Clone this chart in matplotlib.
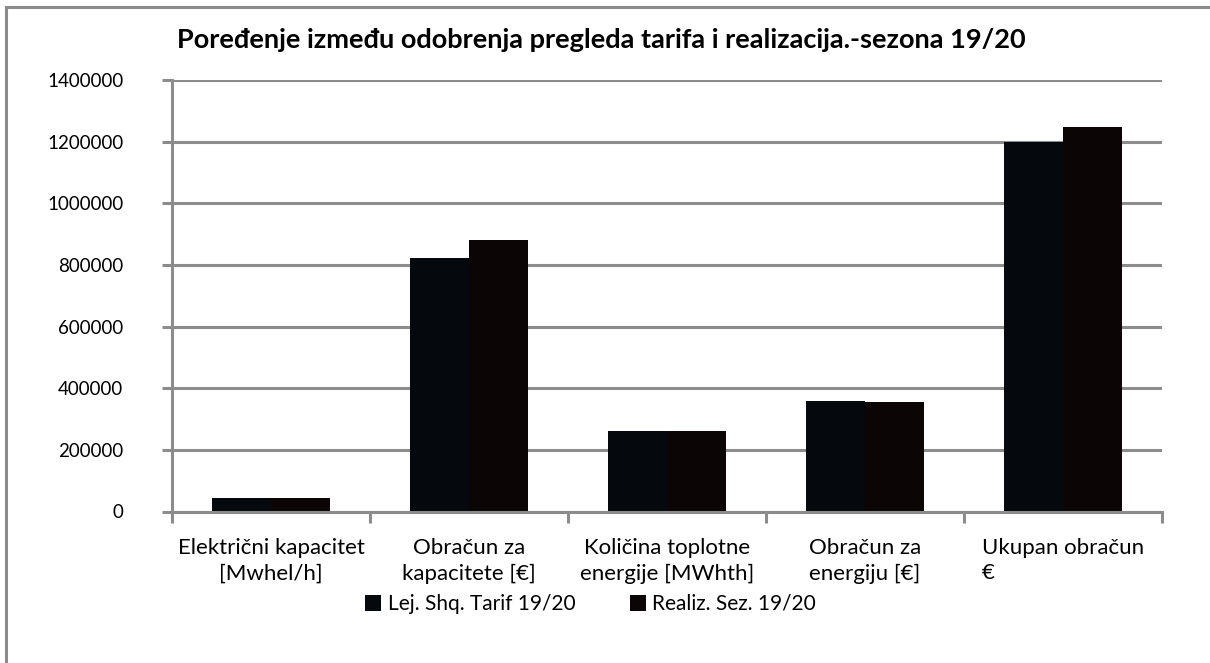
import numpy as np
import matplotlib.pyplot as plt
from matplotlib.patches import Rectangle

# data
categories = ["Električni kapacitet\n[Mwhel/h]",
              "Obračun za\nkapacitete [€]",
              "Količina toplotne\nenergije [MWhth]",
              "Obračun za\nenergiju [€]",
              "Ukupan obračun\n€"]
tarif_1920 = [43000, 824000, 261000, 360000, 1200000]
realiz_1920 = [43000, 880000, 261000, 354000, 1248000]
series_names = ["Lej. Shq. Tarif 19/20", "Realiz. Sez. 19/20"]
y_ticks = [0, 200000, 400000, 600000, 800000, 1000000, 1200000, 1400000]

grey = "#8c8c8c"
plt.rcParams['font.family'] = ['Lato', 'DejaVu Sans']

fig = plt.figure(figsize=(12.1, 6.63), dpi=100)
ax = fig.add_axes([172/1210, 1 - 511.5/663, 990/1210, 431.5/663])

# grey frame round the chart area (cut off on right/bottom like the source)
fig.patches.append(Rectangle((6/1210, -0.1), 1.2, 1 - 7/663 + 0.1,
                             transform=fig.transFigure, fill=False,
                             edgecolor=grey, linewidth=2.2))

x = np.arange(len(categories))
w = 0.30
ax.bar(x - w/2, tarif_1920, w, color="#05080c", zorder=2, label=series_names[0])
ax.bar(x + w/2, realiz_1920, w, color="#0c0505", zorder=2, label=series_names[1])

ax.set_xlim(-0.5, len(categories) - 0.5)
ax.set_ylim(0, 1400000)
ax.set_yticks(y_ticks)
ax.set_yticklabels([str(v) for v in y_ticks], fontsize=13.5)
ax.yaxis.grid(True, color=grey, linewidth=2.2, zorder=1)
ax.set_axisbelow(True)

# category ticks at the boundaries, labels in the middle
ax.set_xticks(np.arange(len(categories) + 1) - 0.5)
ax.set_xticklabels([])
ax.set_xticks(x, minor=True)
ax.set_xticklabels(categories, minor=True, fontsize=16, linespacing=1.35)
ax.tick_params(axis="x", which="minor", length=0, pad=19)
ax.tick_params(axis="x", which="major", length=8, width=2.2, color=grey)
ax.tick_params(axis="y", length=7, width=2.2, color=grey, pad=28)
for lbl in ax.get_xticklabels(minor=True):
    if lbl.get_text().startswith("Ukupan"):
        lbl.set_multialignment("left")

for side in ["top", "right"]:
    ax.spines[side].set_visible(False)
for side in ["left", "bottom"]:
    ax.spines[side].set_color(grey)
    ax.spines[side].set_linewidth(2.2)
    ax.spines[side].set_zorder(3)

fig.text(0.497, 1 - 40/663, "Poređenje između odobrenja pregleda tarifa i realizacija.-sezona 19/20",
         ha="center", va="center", fontsize=19.5, fontweight="bold")

fig.legend(loc="center", bbox_to_anchor=(0.488, 1 - 604/663), ncol=2, frameon=False,
           fontsize=15, handlelength=0.8, handleheight=0.8, handletextpad=0.3,
           columnspacing=2.6)

fig.savefig("out.png", dpi=100)
